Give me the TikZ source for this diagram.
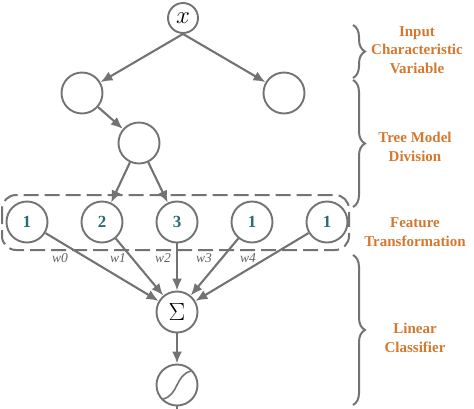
\documentclass[tikz,border=0pt]{standalone}
\usepackage{fontspec}
\setmainfont{Liberation Serif}
\usepackage{tikz}
\usetikzlibrary{calc,arrows.meta,decorations.pathreplacing}
\definecolor{linegray}{RGB}{115,115,115}
\definecolor{labelorange}{RGB}{212,120,48}
\definecolor{leafteal}{RGB}{40,108,115}

\begin{document}
\begin{tikzpicture}[x=1pt,y=-1pt]
  \tikzstyle{directed}=[-{Latex[length=12pt,width=10pt]}, line width=2.1pt, color=linegray]
  \tikzstyle{unit}=[circle,draw=linegray,line width=1.9pt,minimum size=41pt,inner sep=0pt]
  \tikzstyle{stage}=[text=labelorange,font=\fontsize{15}{18.5}\selectfont\bfseries,align=center]
  \tikzstyle{weight}=[text=linegray!85!black,font=\fontsize{13.5}{13.5}\selectfont\itshape]
  \tikzstyle{bracket}=[decorate,decoration={brace,amplitude=12pt},line width=2pt,color=linegray]
  \useasboundingbox (0,0) rectangle (474,408);
  % tree model
  \node[unit,minimum size=30pt] (x) at (183,18) {\fontsize{29}{29}\selectfont$x$};
  \node[unit] (t1) at (82,93) {};
  \node[unit] (t2) at (284,93) {};
  \node[unit] (t3) at (139,143) {};
  \draw[directed] (x.south) -- (t1);
  \draw[directed] (x.south) -- (t2);
  \draw[directed] (t1) -- (t3);
  % leaves
  \foreach \x/\v in {0/1,1/2,2/3,3/1,4/1} {
    \node[unit,text=leafteal,font=\fontsize{17}{17}\selectfont\bfseries] (f\x) at ({27+75*\x},222) {\v};
  }
  \draw[linegray,line width=2pt,dash pattern=on 15pt off 6pt,rounded corners=14pt] (2,195) rectangle (349,250);
  \draw[directed] (t3) -- (f1);
  \draw[directed] (t3) -- (f2);
  % linear classifier
  \node[unit] (sum) at (177,312) {\fontsize{30}{30}\selectfont$\Sigma$};
  \node[unit] (act) at (177,385) {};
  \coordinate (out) at (177,412);
  \draw[linegray,line width=1.6pt] ($(act)+(-14,14)$) .. controls ($(act)+(2,10)$) and ($(act)+(-2,-10)$) .. ($(act)+(14,-14)$);
  \foreach \x/\px in {0/60,1/118,2/163,3/204,4/248} {
    \draw[directed] (f\x) -- (sum);
    \node[weight] (w\x) at (\px,258) {w\x};
  }
  \draw[directed] (sum) -- (act);
  \draw[linegray,line width=2.1pt] (act) -- (out);
  % stages
  \draw[bracket] (353,25) -- (353,78);
  \draw[bracket] (353,80) -- (353,207);
  \draw[bracket] (353,255) -- (353,405);
  \node[stage] (s0) at (417,50) {Input\\Characteristic\\Variable};
  \node[stage] (s1) at (415,147) {Tree Model\\Division};
  \node[stage] (s2) at (415,232) {Feature\\Transformation};
  \node[stage] (s3) at (415,338) {Linear\\Classifier};
\end{tikzpicture}
\end{document}
